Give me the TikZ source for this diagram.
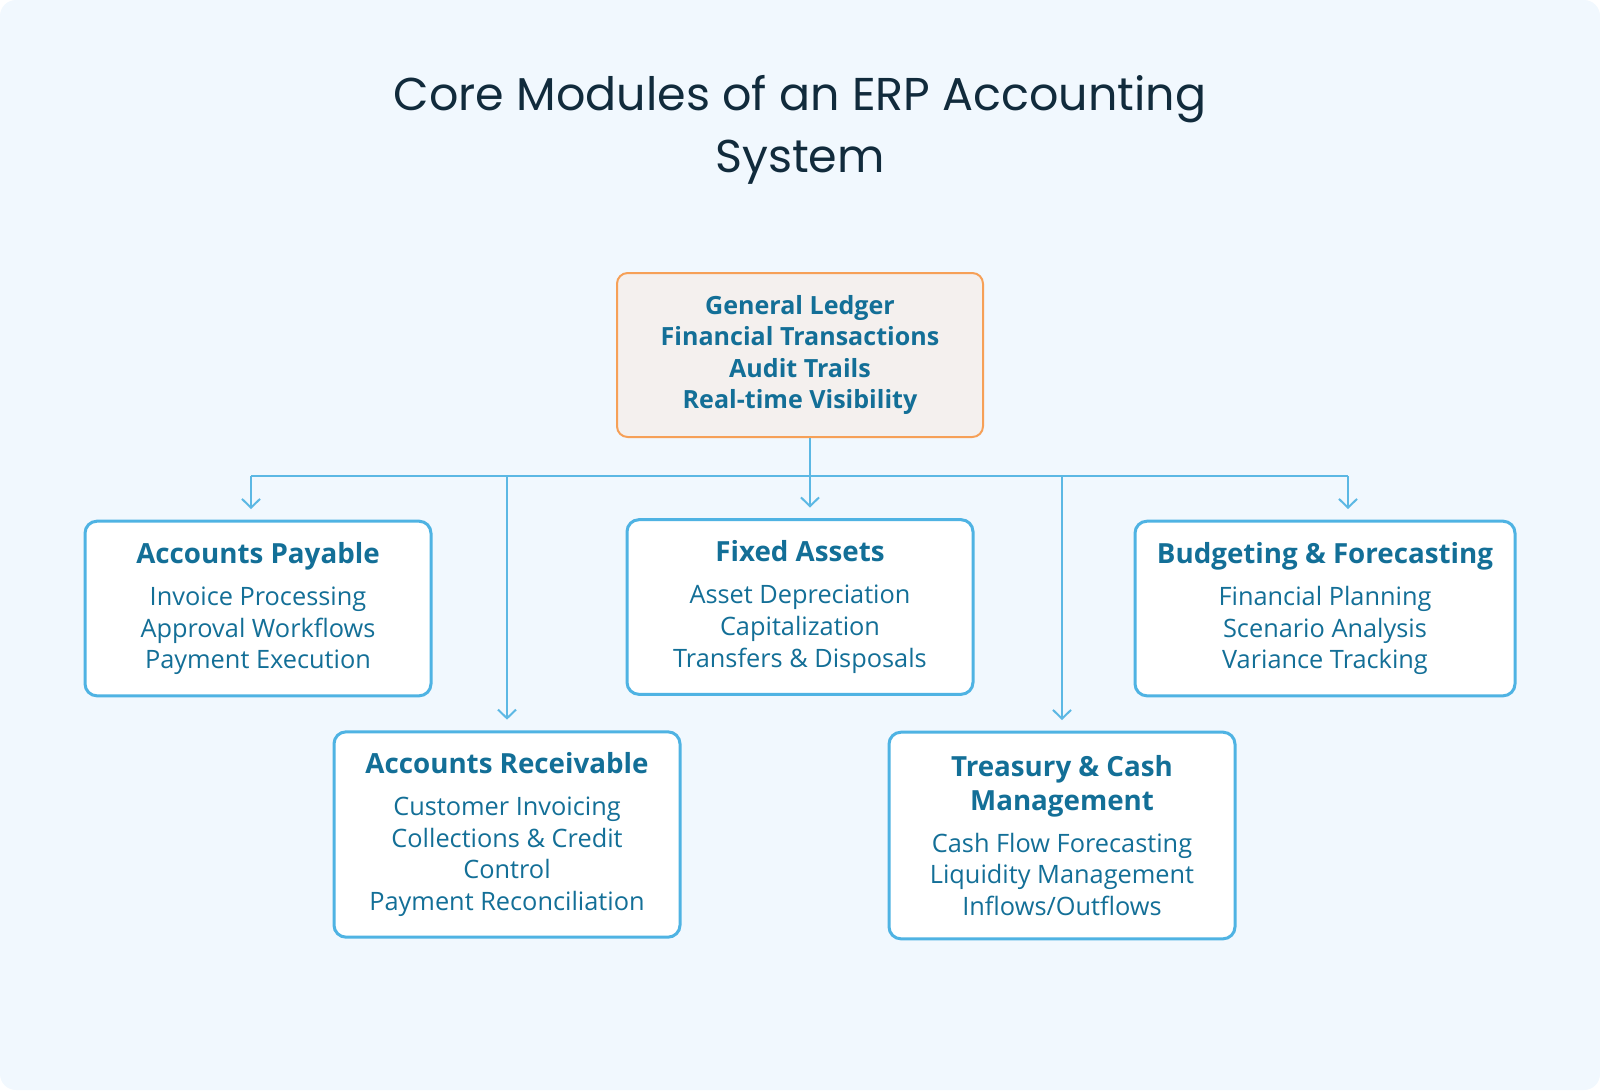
\documentclass[tikz,border=0pt]{standalone}
\usepackage{fontspec}
\setmainfont{Open Sans}
\newfontfamily\titlefont{Poppins}
\usepackage{tikz}
\usetikzlibrary{arrows.meta, calc}
\definecolor{bgblue}{HTML}{F1F8FE}
\definecolor{boxline}{HTML}{4FB3E3}
\definecolor{linkblue}{HTML}{5CB8E4}
\definecolor{modtext}{HTML}{136F97}
\definecolor{titletext}{HTML}{112B3C}
\definecolor{corefill}{HTML}{F4F0EE}
\definecolor{coreline}{HTML}{F6A057}
\tikzset{
    modbox/.style={draw=boxline, line width=2.25pt, rounded corners=9pt, fill=white, minimum width=259.5pt, minimum height=131pt, align=center, text=modtext, font=\fontsize{19}{23.7}\selectfont, inner sep=0pt},
    corebox/.style={draw=coreline, line width=1.5pt, rounded corners=8pt, fill=corefill, minimum width=274.5pt, minimum height=123pt, align=center, text=modtext, font=\fontsize{18.8}{23.7}\selectfont\bfseries, inner sep=0pt},
    link/.style={draw=linkblue, line width=1.5pt},
    linkarrow/.style={link, -{Straight Barb[length=6.5pt, width=13.5pt]}, shorten >=8pt},
}
\newcommand{\headfont}{\fontsize{20.8}{25.3}\selectfont\bfseries}
\newcommand{\modhead}[1]{{\headfont #1}\\[7.8pt]}

\begin{document}
\begin{tikzpicture}[x=0.75pt, y=-0.75pt]
    \fill[bgblue, rounded corners=12pt] (0,0) rectangle (1600,1090);
    \useasboundingbox (0,0) rectangle (1600,1090);
    \node[text=titletext, align=center, font=\titlefont\fontsize{34.5}{46}\selectfont] (title) at (800,130) {Core Modules of an ERP Accounting\\System};
    % core and modules
    \node[corebox] (ledger) at (800,355) {General Ledger\\Financial Transactions\\Audit Trails\\Real-time Visibility};
    \node[modbox] (pay) at (258,608.5) {\modhead{Accounts Payable}Invoice Processing\\Approval Workflows\\Payment Execution};
    \node[modbox] (fix) at (800,607) {\modhead{Fixed Assets}Asset Depreciation\\Capitalization\\Transfers \& Disposals};
    \node[modbox, minimum width=285pt] (bud) at (1325,608.5) {\modhead{Budgeting \& Forecasting}Financial Planning\\Scenario Analysis\\Variance Tracking};
    \node[modbox, minimum height=154pt] (rec) at (507,834.5) {\modhead{Accounts Receivable}Customer Invoicing\\Collections \& Credit\\Control\\Payment Reconciliation};
    \node[modbox, minimum height=155pt] (tre) at (1062,835.5) {{\headfont Treasury \& Cash}\\[1.6pt]\modhead{Management}Cash Flow Forecasting\\Liquidity Management\\Inflows/Outflows};
    % connectors
    \coordinate (bus) at (810,476);
    \coordinate (busL) at (251,476);
    \coordinate (busR) at (1348,476);
    \draw[link] (ledger.south -| bus) -- (bus);
    \draw[link] (busL) -- (busR);
    \draw[linkarrow] (busL) -- (busL |- pay.north);
    \draw[linkarrow] (bus) -- (bus |- fix.north);
    \draw[linkarrow] (busR) -- (busR |- bud.north);
    \draw[linkarrow] (rec.north |- bus) -- (rec.north);
    \draw[linkarrow] (tre.north |- bus) -- (tre.north);
\end{tikzpicture}
\end{document}
